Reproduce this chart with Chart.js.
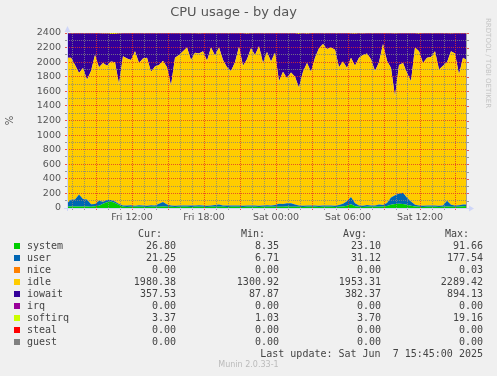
<!DOCTYPE html>
<html>
<head>
<meta charset="utf-8">
<script src="https://cdn.jsdelivr.net/npm/chart.js@4/dist/chart.umd.min.js"></script>
<style>
  html, body { margin: 0; padding: 0; background: #F0F0F0; }
  #wrap { position: relative; width: 497px; height: 376px; overflow: hidden; }
  #wrap canvas { position: absolute; left: 0; top: 0; }
  .t { position: absolute; white-space: pre; font: 10px "DejaVu Sans Mono", monospace; color: #444; line-height: 12px; }
  .r { text-align: right; }
  .sq { position: absolute; width: 6px; height: 6px; }
  #vendor { position: absolute; left: 484px; top: 18px; writing-mode: vertical-rl; font: 7px "DejaVu Sans", sans-serif; color: #c4c4c4; white-space: pre; }
  #munin { position: absolute; left: 0; width: 497px; top: 360px; text-align: center; font: 8px "DejaVu Sans", sans-serif; color: #bbb; }
</style>
</head>
<body>
<div id="wrap">
  <canvas id="c" width="497" height="376"></canvas>
  <div id="legend"></div>
  <div id="vendor">RRDTOOL / TOBI OETIKER</div>
  <div id="munin">Munin 2.0.33-1</div>
</div>
<script>
// time axis: hours counted from Fri 00:00, one sample every 20 minutes
const startHour = 6 + 35 / 60;
const stepHours = 1 / 3;
const xMin = startHour;
const xMax = startHour + 400 / 12;
const xTickHours = [12, 18, 24, 30, 36];
const xTickLabels = ['Fri 12:00', 'Fri 18:00', 'Sat 00:00', 'Sat 06:00', 'Sat 12:00'];
const yTickLabels = [0, 200, 400, 600, 800, 1000, 1200, 1400, 1600, 1800, 2000, 2200, 2400];

// series (percent, stacked)
const system = [20,22,20,20,22,20,18,25,30,60,80,88,70,40,18,
  15,17,16,18,16,15,17,16,18,20,18,
  16,15,16,17,16,15,16,17,16,15,16,17,18,16,15,16,17,16,15,16,17,16,15,16,17,16,
  16,18,18,20,18,17,16,
  15,16,17,16,15,16,17,16,15,
  18,22,32,50,25,
  16,15,16,17,16,18,20,
  28,45,55,60,55,45,30,20,
  16,15,16,17,16,15,16,
  20,18,
  16,17,25,27];
const user = [45,90,95,165,100,95,35,30,70,25,30,22,20,15,15,
  18,20,16,19,18,17,20,18,40,62,30,
  18,17,19,18,17,18,19,20,18,17,20,25,30,20,18,17,19,18,17,20,18,19,17,18,20,19,
  25,40,38,45,48,30,20,
  17,18,19,18,17,19,18,20,17,
  22,35,60,100,40,
  18,17,25,18,20,30,20,
  40,100,120,140,155,95,60,25,
  18,17,19,18,20,17,18,
  80,25,
  18,20,22,21];
const nice = new Array(101).fill(0);
const idle = [1995,1948,1845,1665,1798,1645,1827,2045,1830,1905,1840,1900,1910,1645,2047,
  2017,1993,2118,1953,2016,2028,1833,1906,1902,1938,1882,
  1646,2028,2065,2115,2167,1997,2095,2083,2116,1988,2164,2048,2152,1994,1897,1847,1964,2176,1918,2004,2155,2065,2188,1956,2103,1975,
  2089,1682,1814,1715,1794,1753,1614,
  1838,1956,1834,2026,2158,2215,2145,2164,2138,
  1890,1953,1828,1910,1885,
  2026,2068,2079,2005,1844,1952,2210,
  1952,1775,1355,1760,1780,1710,1650,2155,
  2116,1958,2025,2035,2114,1868,1916,
  1900,2107,
  2086,1793,2013,1980];
const iowait = [336,336,436,545,476,636,517,296,465,404,442,378,385,694,316,
  346,367,246,406,347,336,526,457,436,376,466,
  717,336,296,247,196,366,267,272,246,376,197,306,196,367,466,516,397,186,446,350,206,297,176,406,257,386,
  266,656,527,616,536,595,738,
  526,401,526,337,206,146,217,196,226,
  466,386,475,334,439,
  336,292,276,357,516,396,147,
  376,475,864,435,405,546,656,196,
  240,406,337,326,246,497,446,
  396,242,
  276,566,337,369];
const irq = new Array(101).fill(0);
const softirq = [4,4,4,5,4,4,3,4,5,6,8,12,15,6,4,
  4,3,4,4,3,4,4,3,4,4,4,
  3,4,4,3,4,4,3,8,4,4,3,4,4,3,4,4,3,4,4,10,4,3,4,4,3,4,
  4,4,3,4,4,5,12,
  4,9,4,3,4,4,3,4,4,
  4,4,5,6,11,
  4,8,4,3,4,4,3,
  4,5,6,5,5,4,4,4,
  10,4,3,4,4,3,4,
  4,8,
  4,4,3,3];
const steal = new Array(101).fill(0);
const guest = new Array(101).fill(0);

// legend table
const names = ['system', 'user', 'nice', 'idle', 'iowait', 'irq', 'softirq', 'steal', 'guest'];
const colors = ['#00CC00', '#0066B3', '#FF8000', '#FFCC00', '#330099', '#990099', '#CCFF00', '#FF0000', '#808080'];
const curVals = ['26.80', '21.25', '0.00', '1980.38', '357.53', '0.00', '3.37', '0.00', '0.00'];
const minVals = ['8.35', '6.71', '0.00', '1300.92', '87.87', '0.00', '1.03', '0.00', '0.00'];
const avgVals = ['23.10', '31.12', '0.00', '1953.31', '382.37', '0.00', '3.70', '0.00', '0.00'];
const maxVals = ['91.66', '177.54', '0.03', '2289.42', '894.13', '0.00', '19.16', '0.00', '0.00'];
const seriesData = [system, user, nice, idle, iowait, irq, softirq, steal, guest];

const hours = system.map((_, i) => startHour + i * stepHours);

const GRID = 'rgba(130,130,130,0.8)';
const MGRID = 'rgba(225,50,40,0.8)';
const AXIS = '#CFD6F8';
const FONT = "'DejaVu Sans', sans-serif";

// axis lines, arrows and the right-hand frame, drawn like rrdtool does
const muninFrame = {
  id: 'muninFrame',
  afterDraw(chart) {
    const {ctx, chartArea: a, scales: {y}} = chart;
    ctx.save();
    ctx.lineWidth = 1;
    ctx.strokeStyle = '#a0a0a0';
    ctx.beginPath();
    ctx.moveTo(a.right - 0.5, a.top);
    ctx.lineTo(a.right - 0.5, a.bottom);
    ctx.stroke();
    y.ticks.forEach(t => {
      const py = Math.round(y.getPixelForValue(t.value)) + 0.5;
      ctx.strokeStyle = t.value % 200 === 0 ? MGRID : GRID;
      ctx.beginPath();
      ctx.moveTo(a.right, py);
      ctx.lineTo(a.right + 2, py);
      ctx.stroke();
    });
    ctx.strokeStyle = AXIS;
    ctx.fillStyle = AXIS;
    ctx.beginPath();
    ctx.moveTo(a.left - 3, a.bottom + 0.5);
    ctx.lineTo(a.right + 3, a.bottom + 0.5);
    ctx.moveTo(a.left + 0.5, a.bottom + 3);
    ctx.lineTo(a.left + 0.5, a.top - 2);
    ctx.stroke();
    ctx.beginPath();
    ctx.moveTo(a.right + 7, a.bottom + 0.5);
    ctx.lineTo(a.right + 2, a.bottom - 2.5);
    ctx.lineTo(a.right + 2, a.bottom + 3.5);
    ctx.closePath();
    ctx.fill();
    ctx.beginPath();
    ctx.moveTo(a.left + 0.5, a.top - 7);
    ctx.lineTo(a.left - 2.5, a.top - 1);
    ctx.lineTo(a.left + 3.5, a.top - 1);
    ctx.closePath();
    ctx.fill();
    ctx.restore();
  }
};

new Chart(document.getElementById('c'), {
  type: 'line',
  data: {
    labels: hours,
    datasets: seriesData.map((d, k) => ({
      label: names[k],
      data: d,
      backgroundColor: colors[k],
      borderColor: 'transparent',
      borderWidth: 0,
      pointRadius: 0,
      tension: 0,
      fill: k === 0 ? 'origin' : '-1'
    }))
  },
  options: {
    responsive: false,
    animation: false,
    devicePixelRatio: 1,
    layout: {padding: {left: 0, right: 30, top: 0, bottom: 148}},
    plugins: {
      legend: {display: false},
      tooltip: {enabled: false},
      title: {
        display: true,
        text: 'CPU usage - by day',
        color: '#555',
        font: {family: FONT, size: 13, weight: 'normal', lineHeight: 1.2},
        padding: {top: 5, bottom: 12.4}
      }
    },
    scales: {
      x: {
        type: 'linear',
        min: xMin,
        max: xMax,
        afterFit: s => { s.height = 20; },
        afterBuildTicks: s => {
          const t = [];
          for (let h = Math.ceil(xMin); h <= Math.floor(xMax); h++) t.push({value: h});
          s.ticks = t;
        },
        ticks: {
          autoSkip: false,
          maxRotation: 0,
          padding: 2,
          color: '#555',
          font: {family: FONT, size: 9.5},
          callback: v => {
            const k = xTickHours.indexOf(v);
            return k >= 0 ? xTickLabels[k] : '';
          }
        },
        grid: {
          z: 1,
          color: c => (c.tick && c.tick.value % 3 === 0) ? MGRID : GRID,
          tickColor: c => (c.tick && c.tick.value % 3 === 0) ? MGRID : GRID,
          lineWidth: 1,
          tickLength: 2,
          drawTicks: true
        },
        border: {display: false, dash: [1, 1]}
      },
      y: {
        stacked: true,
        min: 0,
        max: 2400,
        afterFit: s => { s.width = 67; },
        afterBuildTicks: s => {
          const t = [];
          for (let v = 0; v <= 2400; v += 100) t.push({value: v});
          s.ticks = t;
        },
        ticks: {
          autoSkip: false,
          padding: 4,
          color: '#555',
          font: {family: FONT, size: 9.5},
          callback: v => yTickLabels.includes(v) ? String(v) : ''
        },
        grid: {
          z: 1,
          color: c => (c.tick && c.tick.value % 200 === 0) ? MGRID : GRID,
          tickColor: c => (c.tick && c.tick.value % 200 === 0) ? MGRID : GRID,
          lineWidth: 1,
          tickLength: 2,
          drawTicks: true
        },
        border: {display: false, dash: [1, 1]},
        title: {
          display: true,
          text: '%',
          color: '#555',
          font: {family: FONT, size: 10},
          padding: {top: 4, bottom: 0}
        }
      }
    }
  },
  plugins: [muninFrame]
});

// legend rows below the graph
const legend = document.getElementById('legend');
function addText(txt, x, yc, right) {
  const el = document.createElement('div');
  el.className = 't' + (right ? ' r' : '');
  el.textContent = txt;
  el.style.top = (yc - 6) + 'px';
  if (right) el.style.right = (497 - x) + 'px';
  else el.style.left = x + 'px';
  legend.appendChild(el);
}
addText('Cur:', 162, 234, true);
addText('Min:', 265, 234, true);
addText('Avg:', 367, 234, true);
addText('Max:', 469, 234, true);
names.forEach((n, k) => {
  const yc = 245.5 + 12 * k;
  const sq = document.createElement('div');
  sq.className = 'sq';
  sq.style.left = '14px';
  sq.style.top = (yc - 3) + 'px';
  sq.style.background = colors[k];
  legend.appendChild(sq);
  addText(n, 27, yc, false);
  addText(curVals[k], 176, yc, true);
  addText(minVals[k], 279, yc, true);
  addText(avgVals[k], 381, yc, true);
  addText(maxVals[k], 483, yc, true);
});
addText('Last update: Sat Jun  7 15:45:00 2025', 483, 353.5, true);
</script>
</body>
</html>
